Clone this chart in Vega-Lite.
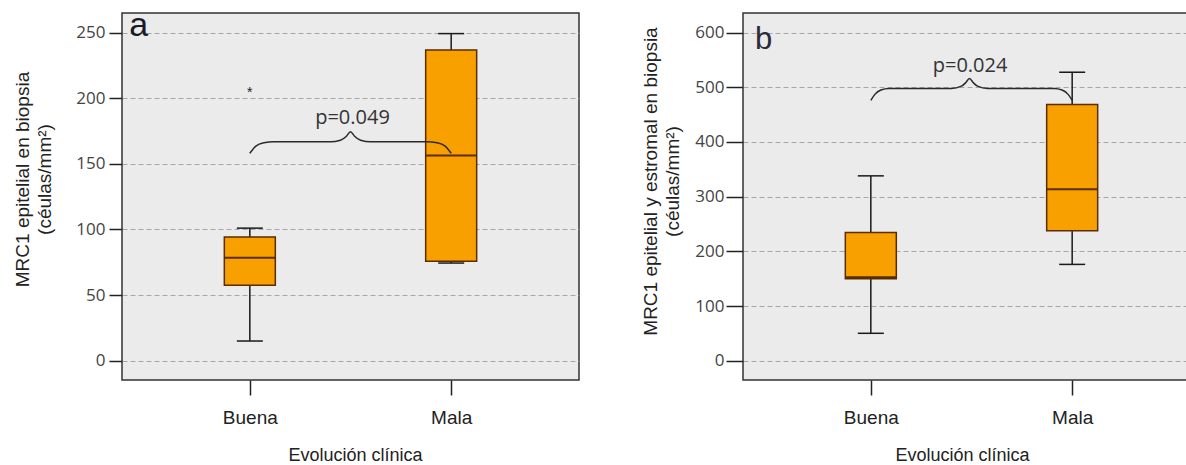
{
  "$schema": "https://vega.github.io/schema/vega-lite/v6.json",
  "background": "white",
  "padding": {"left": 12, "top": 8, "right": 0, "bottom": 0},
  "bounds": "flush",
  "spacing": 164,
  "datasets": {
    "boxA": [
      {"grupo": "Buena", "idx": 1, "inferior": 15.0, "q1": 57.4, "mediana": 78.4, "q3": 94.2, "superior": 101.0},
      {"grupo": "Mala", "idx": 2, "inferior": 74.4, "q1": 75.7, "mediana": 156.3, "q3": 236.8, "superior": 249.2}
    ],
    "boxB": [
      {"grupo": "Buena", "idx": 1, "inferior": 50.1, "q1": 149.8, "mediana": 152.4, "q3": 234.6, "superior": 338.0},
      {"grupo": "Mala", "idx": 2, "inferior": 176.1, "q1": 237.5, "mediana": 313.7, "q3": 468.5, "superior": 527.5}
    ],
    "outA": [{"grupo": "Buena", "idx": 1, "valor": 200.7, "marca": "*"}],
    "braceA": [
      {"bx": 1.00, "by": 158.0}, {"bx": 1.03, "by": 163.5}, {"bx": 1.07, "by": 166.0}, {"bx": 1.12, "by": 166.8},
      {"bx": 1.40, "by": 166.8}, {"bx": 1.45, "by": 168.0}, {"bx": 1.48, "by": 171.0}, {"bx": 1.50, "by": 174.5},
      {"bx": 1.52, "by": 171.0}, {"bx": 1.55, "by": 168.0}, {"bx": 1.60, "by": 166.8}, {"bx": 1.88, "by": 166.8},
      {"bx": 1.93, "by": 166.0}, {"bx": 1.97, "by": 163.5}, {"bx": 2.00, "by": 158.0}
    ],
    "braceB": [
      {"bx": 1.00, "by": 476.0}, {"bx": 1.02, "by": 487.0}, {"bx": 1.05, "by": 495.0}, {"bx": 1.09, "by": 497.7},
      {"bx": 1.40, "by": 497.7}, {"bx": 1.45, "by": 502.0}, {"bx": 1.47, "by": 508.0}, {"bx": 1.49, "by": 516.0},
      {"bx": 1.51, "by": 508.0}, {"bx": 1.53, "by": 502.0}, {"bx": 1.58, "by": 497.7}, {"bx": 1.91, "by": 497.7},
      {"bx": 1.95, "by": 495.0}, {"bx": 1.98, "by": 487.0}, {"bx": 2.00, "by": 476.0}
    ],
    "pA": [{"texto": "p=0.049", "tx": 1.51, "ty": 180.7}],
    "pB": [{"texto": "p=0.024", "tx": 1.493, "ty": 528.0}],
    "letraA": [{"texto": "a", "tx": 0.448, "ty": 247.2}],
    "letraB": [{"texto": "b", "tx": 0.468, "ty": 570.8}]
  },
  "hconcat": [
    {
      "width": 457,
      "height": 367,
      "layer": [
        {
          "data": {"name": "boxA"},
          "mark": {"type": "rule", "color": "#1a1a1a", "strokeWidth": 1.5},
          "encoding": {
            "x": {"field": "idx", "type": "quantitative", "scale": {"domain": [0.39, 2.61], "nice": false, "zero": false},
              "axis": {"values": [1, 2], "labelExpr": "datum.value == 1 ? 'Buena' : 'Mala'", "title": "Evolución clínica",
                "titleFont": "Liberation Sans", "titleFontSize": 18, "titleFontWeight": "normal", "titleColor": "#222222",
                "titleX": 233, "titleY": 80, "titleBaseline": "alphabetic", "titleAlign": "center",
                "labelFont": "Liberation Sans", "labelFontSize": 19, "labelColor": "#222222", "labelPadding": 13,
                "tickSize": 15, "tickWidth": 1.5, "tickColor": "#222222", "domain": false, "grid": false, "labelFlush": false}},
            "y": {"field": "inferior", "type": "quantitative", "scale": {"domain": [-14.7, 264.9], "nice": false, "zero": false},
              "axis": {"values": [0, 50, 100, 150, 200, 250], "title": ["MRC1 epitelial en biopsia", "(céulas/mm²)"],
                "titleFont": "Liberation Sans", "titleFontSize": 19, "titleFontWeight": "normal", "titleColor": "#222222",
                "titleAngle": -90, "titleX": -109, "titleY": 166, "titleBaseline": "top", "titleAlign": "center", "titleLineHeight": 22,
                "labelFont": "Open Sans", "labelFontSize": 17, "labelColor": "#444444", "labelPadding": 4,
                "tickSize": 13, "tickWidth": 1.5, "tickColor": "#222222", "domain": false,
                "grid": true, "gridDash": [5, 3], "gridColor": "#a6a6a6", "gridWidth": 1}},
            "y2": {"field": "superior"}
          }
        },
        {
          "data": {"name": "boxA"},
          "mark": {"type": "tick", "orient": "horizontal", "size": 26, "thickness": 1.5, "color": "#1a1a1a", "opacity": 1},
          "encoding": {
            "x": {"field": "idx", "type": "quantitative"},
            "y": {"field": "superior", "type": "quantitative"}
          }
        },
        {
          "data": {"name": "boxA"},
          "mark": {"type": "tick", "orient": "horizontal", "size": 26, "thickness": 1.5, "color": "#1a1a1a", "opacity": 1},
          "encoding": {
            "x": {"field": "idx", "type": "quantitative"},
            "y": {"field": "inferior", "type": "quantitative"}
          }
        },
        {
          "data": {"name": "boxA"},
          "mark": {"type": "bar", "width": 51, "fill": "#F9A001", "stroke": "#5A2D00", "strokeWidth": 1.5, "opacity": 1},
          "encoding": {
            "x": {"field": "idx", "type": "quantitative"},
            "y": {"field": "q1", "type": "quantitative"},
            "y2": {"field": "q3"}
          }
        },
        {
          "data": {"name": "boxA"},
          "mark": {"type": "tick", "orient": "horizontal", "size": 51, "thickness": 2, "color": "#5A2D00", "opacity": 1},
          "encoding": {
            "x": {"field": "idx", "type": "quantitative"},
            "y": {"field": "mediana", "type": "quantitative"}
          }
        },
        {
          "data": {"name": "outA"},
          "mark": {"type": "text", "font": "Liberation Sans", "fontSize": 14, "color": "#222222", "baseline": "alphabetic", "align": "center"},
          "encoding": {
            "x": {"field": "idx", "type": "quantitative"},
            "y": {"field": "valor", "type": "quantitative"},
            "text": {"field": "marca"}
          }
        },
        {
          "data": {"name": "braceA"},
          "mark": {"type": "line", "interpolate": "monotone", "color": "#2a2a2a", "strokeWidth": 1.5},
          "encoding": {
            "x": {"field": "bx", "type": "quantitative"},
            "y": {"field": "by", "type": "quantitative"}
          }
        },
        {
          "data": {"name": "pA"},
          "mark": {"type": "text", "font": "Open Sans", "fontSize": 20, "color": "#333333", "baseline": "alphabetic", "align": "center"},
          "encoding": {
            "x": {"field": "tx", "type": "quantitative"},
            "y": {"field": "ty", "type": "quantitative"},
            "text": {"field": "texto"}
          }
        },
        {
          "data": {"name": "letraA"},
          "mark": {"type": "text", "font": "Liberation Sans", "fontSize": 34, "color": "#1a1a2a", "baseline": "alphabetic", "align": "center"},
          "encoding": {
            "x": {"field": "tx", "type": "quantitative"},
            "y": {"field": "ty", "type": "quantitative"},
            "text": {"field": "texto"}
          }
        }
      ]
    },
    {
      "width": 457,
      "height": 367,
      "layer": [
        {
          "data": {"name": "boxB"},
          "mark": {"type": "rule", "color": "#1a1a1a", "strokeWidth": 1.5},
          "encoding": {
            "x": {"field": "idx", "type": "quantitative", "scale": {"domain": [0.39, 2.61], "nice": false, "zero": false},
              "axis": {"values": [1, 2], "labelExpr": "datum.value == 1 ? 'Buena' : 'Mala'", "title": "Evolución clínica",
                "titleFont": "Liberation Sans", "titleFontSize": 18, "titleFontWeight": "normal", "titleColor": "#222222",
                "titleX": 219, "titleY": 80, "titleBaseline": "alphabetic", "titleAlign": "center",
                "labelFont": "Liberation Sans", "labelFontSize": 19, "labelColor": "#222222", "labelPadding": 13,
                "tickSize": 15, "tickWidth": 1.5, "tickColor": "#222222", "domain": false, "grid": false, "labelFlush": false}},
            "y": {"field": "inferior", "type": "quantitative", "scale": {"domain": [-35.3, 635.8], "nice": false, "zero": false},
              "axis": {"values": [0, 100, 200, 300, 400, 500, 600], "title": ["MRC1 epitelial y estromal en biopsia", "(céulas/mm²)"],
                "titleFont": "Liberation Sans", "titleFontSize": 19, "titleFontWeight": "normal", "titleColor": "#222222",
                "titleAngle": -90, "titleX": -102, "titleY": 168, "titleBaseline": "top", "titleAlign": "center", "titleLineHeight": 22,
                "labelFont": "Open Sans", "labelFontSize": 17, "labelColor": "#444444", "labelPadding": 2,
                "tickSize": 17, "tickWidth": 1.5, "tickColor": "#222222", "domain": false,
                "grid": true, "gridDash": [5, 3], "gridColor": "#a6a6a6", "gridWidth": 1}},
            "y2": {"field": "superior"}
          }
        },
        {
          "data": {"name": "boxB"},
          "mark": {"type": "tick", "orient": "horizontal", "size": 26, "thickness": 1.5, "color": "#1a1a1a", "opacity": 1},
          "encoding": {
            "x": {"field": "idx", "type": "quantitative"},
            "y": {"field": "superior", "type": "quantitative"}
          }
        },
        {
          "data": {"name": "boxB"},
          "mark": {"type": "tick", "orient": "horizontal", "size": 26, "thickness": 1.5, "color": "#1a1a1a", "opacity": 1},
          "encoding": {
            "x": {"field": "idx", "type": "quantitative"},
            "y": {"field": "inferior", "type": "quantitative"}
          }
        },
        {
          "data": {"name": "boxB"},
          "mark": {"type": "bar", "width": 51, "fill": "#F9A001", "stroke": "#5A2D00", "strokeWidth": 1.5, "opacity": 1},
          "encoding": {
            "x": {"field": "idx", "type": "quantitative"},
            "y": {"field": "q1", "type": "quantitative"},
            "y2": {"field": "q3"}
          }
        },
        {
          "data": {"name": "boxB"},
          "mark": {"type": "tick", "orient": "horizontal", "size": 51, "thickness": 2, "color": "#5A2D00", "opacity": 1},
          "encoding": {
            "x": {"field": "idx", "type": "quantitative"},
            "y": {"field": "mediana", "type": "quantitative"}
          }
        },
        {
          "data": {"name": "braceB"},
          "mark": {"type": "line", "interpolate": "monotone", "color": "#2a2a2a", "strokeWidth": 1.5},
          "encoding": {
            "x": {"field": "bx", "type": "quantitative"},
            "y": {"field": "by", "type": "quantitative"}
          }
        },
        {
          "data": {"name": "pB"},
          "mark": {"type": "text", "font": "Open Sans", "fontSize": 20, "color": "#333333", "baseline": "alphabetic", "align": "center"},
          "encoding": {
            "x": {"field": "tx", "type": "quantitative"},
            "y": {"field": "ty", "type": "quantitative"},
            "text": {"field": "texto"}
          }
        },
        {
          "data": {"name": "letraB"},
          "mark": {"type": "text", "font": "Liberation Sans", "fontSize": 31, "color": "#2a2a3a", "baseline": "alphabetic", "align": "center"},
          "encoding": {
            "x": {"field": "tx", "type": "quantitative"},
            "y": {"field": "ty", "type": "quantitative"},
            "text": {"field": "texto"}
          }
        }
      ]
    }
  ],
  "config": {
    "view": {"fill": "#EBEBEB", "stroke": "#333333", "strokeWidth": 1.5},
    "axis": {"labelOverlap": false}
  }
}
